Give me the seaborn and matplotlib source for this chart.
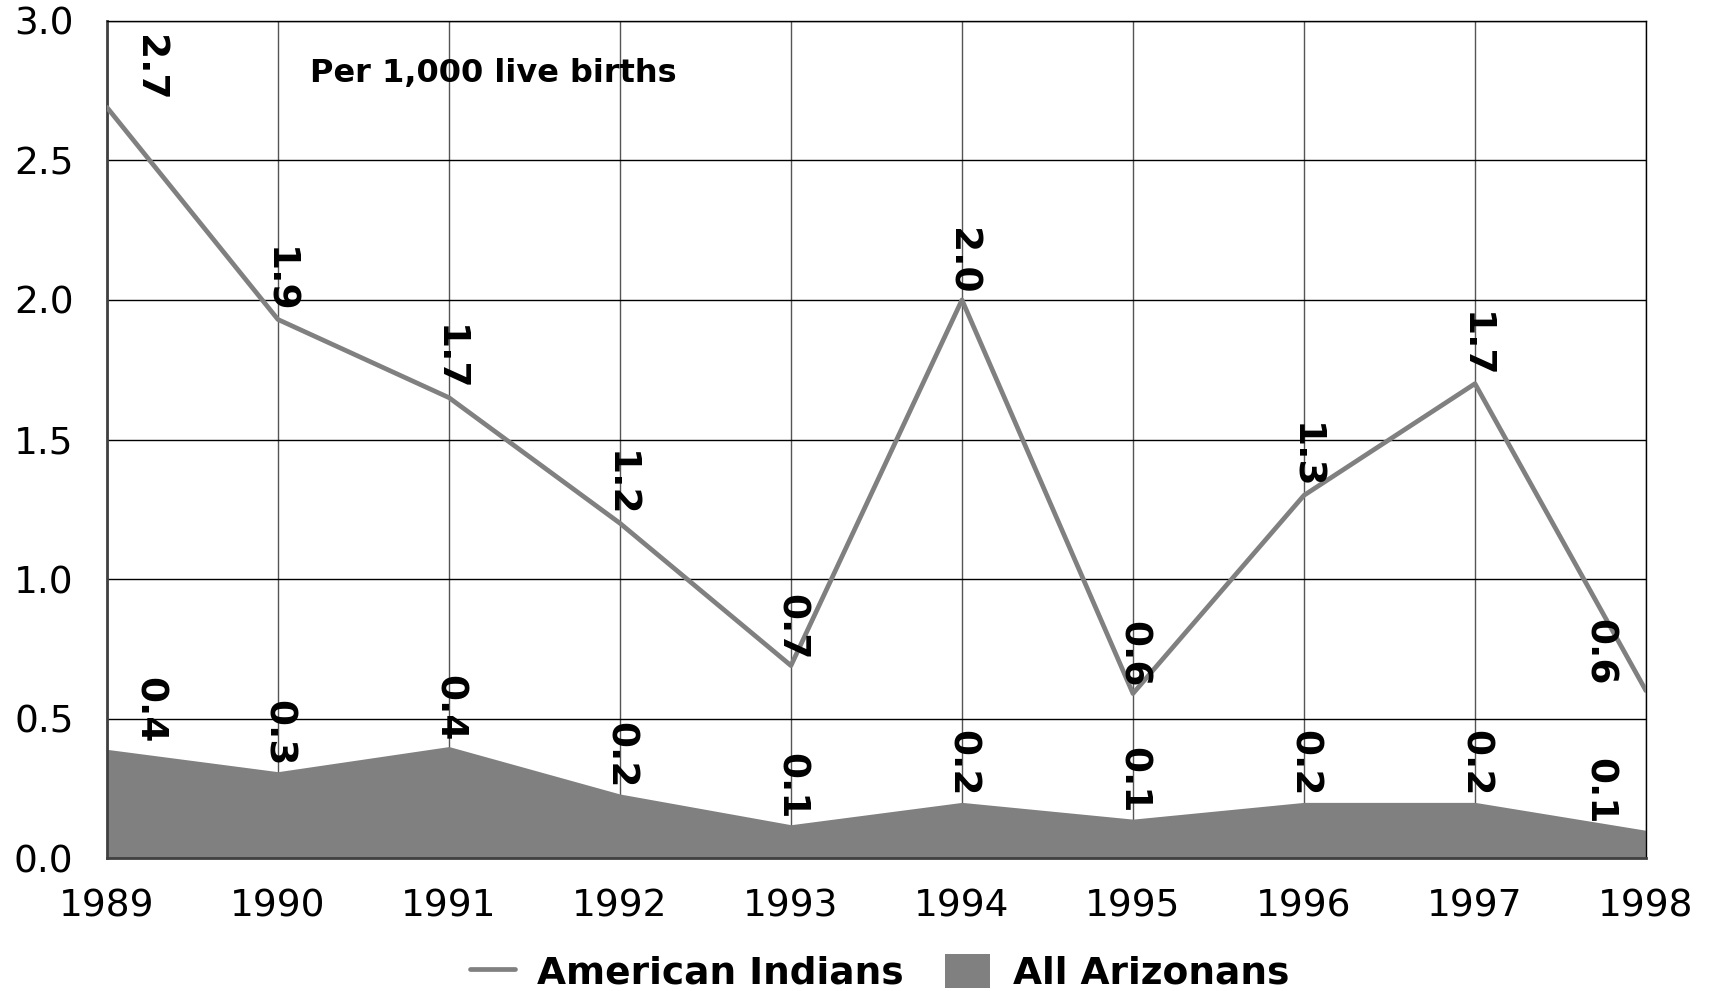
import matplotlib
matplotlib.use("Agg")
import matplotlib.pyplot as plt
import seaborn as sns
import pandas as pd

years = [1989, 1990, 1991, 1992, 1993, 1994, 1995, 1996, 1997, 1998]
american_indians = [2.69, 1.93, 1.65, 1.20, 0.69, 2.00, 0.59, 1.30, 1.70, 0.60]
all_arizonans = [0.39, 0.31, 0.40, 0.23, 0.12, 0.20, 0.14, 0.20, 0.20, 0.10]
ai_labels = ["2.7", "1.9", "1.7", "1.2", "0.7", "2.0", "0.6", "1.3", "1.7", "0.6"]
az_labels = ["0.4", "0.3", "0.4", "0.2", "0.1", "0.2", "0.1", "0.2", "0.2", "0.1"]
y_ticks = [0.0, 0.5, 1.0, 1.5, 2.0, 2.5, 3.0]
note = "Per 1,000 live births"

sns.set_style("white")
plt.rcParams['font.family'] = ['DejaVu Sans']
plt.rcParams['text.color'] = 'black'

df = pd.DataFrame({"year": years, "ai": american_indians, "az": all_arizonans})

fig = plt.figure(figsize=(17.11, 9.91), dpi=100)
ax = fig.add_axes([0.0625, 0.134, 0.8995, 0.845])
ax.set_axisbelow(True)

ax.fill_between(df["year"], 0, df["az"], color="#808080", linewidth=0,
                label="All Arizonans", zorder=2)
sns.lineplot(data=df, x="year", y="ai", ax=ax, color="#808080", linewidth=3.4,
             label="American Indians", zorder=3)

ax.set_xlim(years[0], years[-1])
ax.set_ylim(0, 3.0)
ax.set_xticks(years)
ax.set_xticklabels([str(y) for y in years])
ax.set_yticks(y_ticks)
ax.set_yticklabels([f"{v:.1f}" for v in y_ticks])
ax.set_xlabel("")
ax.set_ylabel("")
ax.tick_params(axis="both", length=0, labelsize=27, colors="black")
ax.tick_params(axis="y", pad=24)
ax.tick_params(axis="x", pad=22)

ax.yaxis.grid(True, color="black", linewidth=1.0)
ax.xaxis.grid(True, color="#555555", linewidth=1.0)
for side in ["top", "right"]:
    ax.spines[side].set_color("black")
    ax.spines[side].set_linewidth(1.0)
for side in ["left", "bottom"]:
    ax.spines[side].set_color("#404040")
    ax.spines[side].set_linewidth(2.0)

n = len(years)
for series, labs in ((american_indians, ai_labels), (all_arizonans, az_labels)):
    for i, (x, y, t) in enumerate(zip(years, series, labs)):
        dx = 30 if i == 0 else (-34 if i == n - 1 else 0)
        ax.annotate(t, (x, y), xytext=(dx, 4), textcoords="offset points",
                    rotation=270, ha="center", va="bottom", fontsize=27,
                    fontweight="bold", color="black", zorder=5)

ax.text(0.132, 0.937, note, transform=ax.transAxes, fontsize=23,
        fontweight="bold", ha="left", va="center", color="black")

handles, labels = ax.get_legend_handles_labels()
order = [labels.index("American Indians"), labels.index("All Arizonans")]
if ax.get_legend():
    ax.get_legend().remove()
leg = fig.legend([handles[k] for k in order], [labels[k] for k in order],
                 loc="center", bbox_to_anchor=(0.514, 0.018), ncol=2, frameon=False,
                 prop={"size": 27, "weight": "bold"}, handlelength=1.2,
                 handleheight=1.0, columnspacing=1.1, handletextpad=0.6)
for t in leg.get_texts():
    t.set_color("black")

fig.savefig("out.png", dpi=100)
